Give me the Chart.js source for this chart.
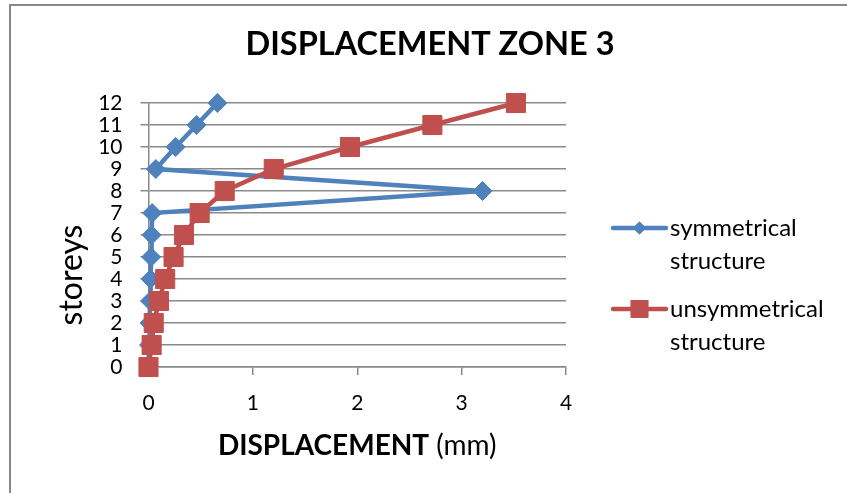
<!DOCTYPE html>
<html><head><meta charset="utf-8">
<script src="https://cdn.jsdelivr.net/npm/chart.js@4/dist/chart.umd.min.js"></script>
<style>html,body{margin:0;padding:0;background:#fff;}#wrap{width:847px;height:493px;position:relative;}</style>
</head><body><div id="wrap"><canvas id="c" width="847" height="493"></canvas></div>
<script>
// ---- data ----
const storeys = [0,1,2,3,4,5,6,7,8,9,10,11,12];
const symmetrical = [0, 0.005, 0.01, 0.015, 0.02, 0.025, 0.03, 0.035, 3.2, 0.07, 0.26, 0.46, 0.66];
const unsymmetrical = [0, 0.03, 0.05, 0.10, 0.16, 0.24, 0.34, 0.49, 0.73, 1.20, 1.93, 2.72, 3.52];
const xTickValues = [0,1,2,3,4];
const seriesNames = [['symmetrical','structure'],['unsymmetrical','structure']];
const chartTitle = 'DISPLACEMENT ZONE 3';
const xTitleBold = 'DISPLACEMENT';
const xTitleRest = ' (mm)';
const yTitle = 'storeys';

const BLUE = '#4F81BD', RED = '#C0504D', GRID = '#8a8a8a';
const FONT = 'Lato, "Open Sans", sans-serif';

const toPoints = (xs) => xs.map((v,i)=>({x:v, y:storeys[i]}));

const decor = {
  id:'decor',
  afterDraw(chart){
    const ctx = chart.ctx, ca = chart.chartArea;
    ctx.save();
    // outer border (top + left visible)
    ctx.fillStyle = '#878787';
    ctx.fillRect(9,4,838,2);
    ctx.fillRect(9,4,2,489);
    ctx.fillStyle = '#000';
    // title
    ctx.font = 'bold 32.5px ' + FONT;
    ctx.textAlign = 'center'; ctx.textBaseline = 'middle';
    ctx.fillText(chartTitle, 430, 45);
    // x title mixed weight
    ctx.font = 'bold 28px ' + FONT;
    const wb = ctx.measureText(xTitleBold).width;
    ctx.font = '28px ' + FONT;
    const wr = ctx.measureText(xTitleRest).width;
    const cx = (ca.left + ca.right)/2;
    let sx = cx - (wb+wr)/2;
    ctx.textAlign = 'left';
    ctx.font = 'bold 28px ' + FONT;
    ctx.fillText(xTitleBold, sx, 446);
    ctx.font = '28px ' + FONT;
    ctx.fillText(xTitleRest, sx+wb, 446);
    // y title
    ctx.save();
    ctx.translate(72, 275);
    ctx.rotate(-Math.PI/2);
    ctx.font = '32px ' + FONT;
    ctx.textAlign = 'center';
    ctx.fillText(yTitle, 0, 0);
    ctx.restore();
    // legend
    const items = [
      {color:BLUE, style:'rectRot', r:6.5, y:228, lines:seriesNames[0]},
      {color:RED, style:'rect', r:12.5, y:309, lines:seriesNames[1]}
    ];
    ctx.font = '24px ' + FONT;
    ctx.textAlign = 'left';
    items.forEach(it=>{
      ctx.strokeStyle = it.color; ctx.lineWidth = 4.5; ctx.lineCap='round';
      ctx.beginPath(); ctx.moveTo(613, it.y); ctx.lineTo(666, it.y); ctx.stroke();
      ctx.fillStyle = it.color;
      Chart.helpers.drawPoint(ctx, {pointStyle: it.style, radius: it.r, borderWidth:0}, 639.5, it.y);
      ctx.fill();
      ctx.fillStyle = '#000';
      ctx.fillText(it.lines[0], 670, it.y);
      ctx.fillText(it.lines[1], 670, it.y + 33);
    });
    ctx.restore();
  }
};

new Chart(document.getElementById('c'), {
  type:'scatter',
  data:{
    datasets:[
      {label: seriesNames[0].join(' '), data: toPoints(symmetrical), showLine:true, clip:false,
       borderColor:BLUE, backgroundColor:BLUE, borderWidth:4.5, pointStyle:'rectRot',
       pointRadius:9.5, pointBorderWidth:1, pointBorderColor:BLUE, order:1},
      {label: seriesNames[1].join(' '), data: toPoints(unsymmetrical), showLine:true, clip:false,
       borderColor:RED, backgroundColor:RED, borderWidth:4.5, pointStyle:'rect',
       pointRadius:13.5, pointBorderWidth:1, pointBorderColor:RED, order:0}
    ]
  },
  options:{
    responsive:false, animation:false, devicePixelRatio:1,
    layout:{padding:{left:0, top:103, right:281, bottom:0}},
    plugins:{legend:{display:false}, tooltip:{enabled:false}, title:{display:false}},
    scales:{
      x:{type:'linear', min:0, max:4,
         afterBuildTicks:(s)=>{s.ticks = xTickValues.map(v=>({value:v}));},
         afterFit:(s)=>{s.height = 126;},
         grid:{drawOnChartArea:false, drawTicks:true, tickLength:8, color:GRID, lineWidth:1.5},
         border:{display:true, color:GRID, width:1.5},
         ticks:{color:'#000', font:{family:FONT, size:21}, padding:16, autoSkip:false, maxRotation:0}},
      y:{type:'linear', min:0, max:12,
         afterBuildTicks:(s)=>{s.ticks = storeys.map(v=>({value:v}));},
         afterFit:(s)=>{s.width = 148.5;},
         grid:{drawOnChartArea:true, drawTicks:true, tickLength:8, color:GRID, lineWidth:1.5},
         border:{display:true, color:GRID, width:1.5},
         ticks:{color:'#000', font:{family:FONT, size:21}, padding:18, autoSkip:false}}
    }
  },
  plugins:[decor]
});
</script></body></html>
